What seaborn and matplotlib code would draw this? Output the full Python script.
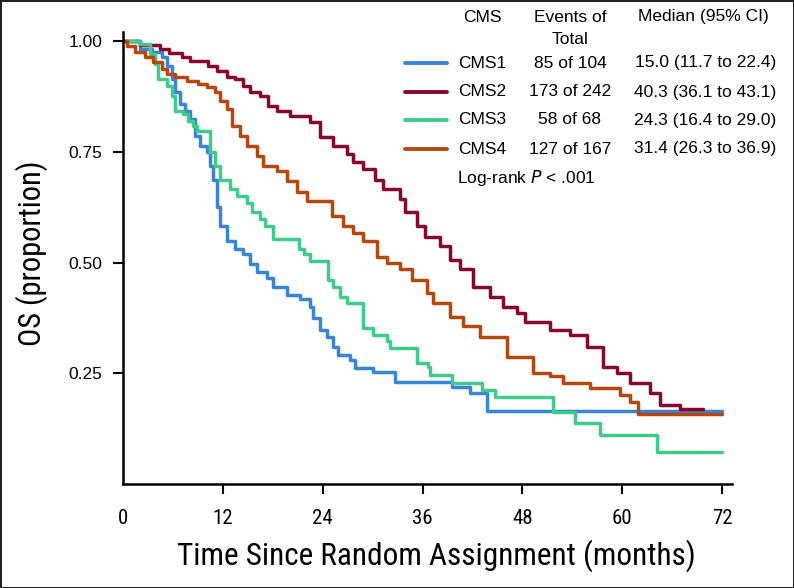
import numpy as np
import pandas as pd
import matplotlib
matplotlib.use("Agg")
import matplotlib.pyplot as plt
import seaborn as sns
from matplotlib.lines import Line2D

sns.set_style("ticks")

# Kaplan-Meier step values (months, proportion surviving)
cms1_t = [0, 2.0, 3.5, 4.7, 5.3, 5.9, 6.3, 6.9, 7.5, 8.1, 8.7, 9.3, 10.1, 10.5, 10.8, 11.3, 11.7,
          12.5, 13.5, 14.4, 15.3, 16.1, 17.3, 18.0, 19.7, 21.3, 22.5, 22.8, 23.7, 24.5, 25.2, 25.8,
          27.3, 27.9, 30.0, 32.7, 39.5, 41.7, 43.8, 72.0]
cms1_s = [1.0, 0.983, 0.976, 0.965, 0.944, 0.915, 0.885, 0.858, 0.843, 0.824, 0.786, 0.763, 0.75,
          0.718, 0.688, 0.627, 0.582, 0.55, 0.532, 0.519, 0.496, 0.478, 0.466, 0.444, 0.428, 0.417,
          0.399, 0.376, 0.349, 0.333, 0.31, 0.292, 0.281, 0.263, 0.254, 0.231, 0.22, 0.206, 0.165,
          0.165]

cms2_t = [0, 2.0, 4.4, 5.5, 7.1, 8.1, 10.2, 11.3, 12.5, 13.5, 14.4, 15.3, 16.5, 17.4, 18.5, 20.1,
          22.5, 23.7, 25.2, 26.9, 27.6, 28.8, 30.3, 31.3, 33.3, 33.9, 35.3, 36.3, 38.1, 39.3, 40.5,
          42.1, 44.1, 45.7, 47.4, 48.3, 51.3, 53.7, 55.8, 57.7, 59.4, 60.9, 63.3, 64.5, 66.9, 69.7]
cms2_s = [1.0, 0.993, 0.983, 0.975, 0.965, 0.955, 0.944, 0.933, 0.92, 0.915, 0.9, 0.885, 0.876,
          0.854, 0.843, 0.831, 0.817, 0.783, 0.763, 0.745, 0.727, 0.711, 0.688, 0.666, 0.643, 0.614,
          0.582, 0.559, 0.537, 0.507, 0.485, 0.446, 0.423, 0.399, 0.387, 0.367, 0.349, 0.337, 0.31,
          0.265, 0.251, 0.229, 0.206, 0.179, 0.17, 0.17]

cms3_t = [0, 2.0, 3.2, 3.8, 4.2, 5.3, 5.9, 6.3, 7.2, 7.8, 8.4, 8.9, 10.5, 11.1, 11.7, 12.9, 13.7,
          14.9, 15.5, 16.5, 17.0, 18.0, 21.2, 21.7, 22.5, 24.6, 25.2, 26.1, 26.9, 28.8, 30.0, 31.7,
          32.1, 35.3, 36.6, 36.9, 39.5, 43.1, 44.7, 51.7, 54.3, 57.3, 64.2, 72.0]
cms3_s = [1.0, 0.994, 0.971, 0.949, 0.915, 0.9, 0.876, 0.843, 0.836, 0.82, 0.808, 0.797, 0.75,
          0.718, 0.688, 0.666, 0.65, 0.636, 0.614, 0.598, 0.582, 0.553, 0.53, 0.519, 0.503, 0.462,
          0.444, 0.423, 0.41, 0.353, 0.337, 0.322, 0.308, 0.274, 0.265, 0.247, 0.229, 0.213, 0.197,
          0.163, 0.138, 0.111, 0.072, 0.072]

cms4_t = [0, 0.5, 1.4, 2.6, 3.6, 4.7, 5.3, 6.3, 7.7, 9.0, 10.1, 11.1, 11.7, 12.5, 13.1, 14.1, 14.9,
          16.1, 16.8, 18.5, 19.7, 20.9, 22.1, 25.1, 26.4, 27.6, 28.8, 30.5, 31.7, 33.3, 34.7, 36.5,
          37.3, 39.3, 40.9, 42.9, 46.2, 49.3, 51.3, 52.9, 56.1, 59.7, 60.9, 61.9, 72.0]
cms4_s = [1.0, 0.99, 0.976, 0.965, 0.953, 0.937, 0.926, 0.919, 0.91, 0.904, 0.897, 0.885, 0.865,
          0.847, 0.808, 0.786, 0.763, 0.741, 0.718, 0.707, 0.684, 0.659, 0.639, 0.605, 0.582, 0.568,
          0.55, 0.512, 0.5, 0.485, 0.462, 0.432, 0.41, 0.378, 0.356, 0.333, 0.288, 0.251, 0.243,
          0.229, 0.217, 0.201, 0.186, 0.158, 0.158]

groups = ["CMS1", "CMS2", "CMS3", "CMS4"]
events = ["85 of 104", "173 of 242", "58 of 68", "127 of 167"]
medians = ["15.0 (11.7 to 22.4)", "40.3 (36.1 to 43.1)", "24.3 (16.4 to 29.0)", "31.4 (26.3 to 36.9)"]
colors = {"CMS1": "#3a84d6", "CMS2": "#87082c", "CMS3": "#3ecb8c", "CMS4": "#b5470f"}

curves = {"CMS1": (cms1_t, cms1_s), "CMS2": (cms2_t, cms2_s),
          "CMS3": (cms3_t, cms3_s), "CMS4": (cms4_t, cms4_s)}
df = pd.concat([pd.DataFrame({"months": t, "os": s, "CMS": g}) for g, (t, s) in curves.items()])

narrow = ["Roboto Condensed", "DejaVu Sans"]
plt.rcParams["font.family"] = ["Liberation Sans", "DejaVu Sans"]
plt.rcParams["text.color"] = "black"

fig = plt.figure(figsize=(7.94, 5.88), dpi=100)
ax = fig.add_axes([0.155, 0.177, 0.767, 0.769])

for g in groups:
    sns.lineplot(data=df[df["CMS"] == g], x="months", y="os", color=colors[g],
                 drawstyle="steps-post", estimator=None, sort=False, lw=2.5, ax=ax)

ax.set_xlim(0, 73.2)
ax.set_ylim(0, 1.022)
ax.set_xticks([0, 12, 24, 36, 48, 60, 72])
ax.set_yticks([0.25, 0.5, 0.75, 1.0])
ax.set_yticklabels(["0.25", "0.50", "0.75", "1.00"])
sns.despine(ax=ax)
for s in ["left", "bottom"]:
    ax.spines[s].set_linewidth(1.8)
    ax.spines[s].set_color("black")
ax.tick_params(axis="y", length=7, width=1.5, pad=8, labelsize=12.5, colors="black")
ax.tick_params(axis="x", length=7, width=1.5, pad=11, labelsize=15, colors="black")
ax.xaxis.get_major_ticks()[0].tick1line.set_visible(False)
for lbl in ax.get_xticklabels():
    lbl.set_family(narrow)

ax.set_xlabel("Time Since Random Assignment (months)", family=narrow, fontsize=22.5,
              labelpad=8, color="black")
ax.set_ylabel("OS (proportion)", family=narrow, fontsize=22, labelpad=15, color="black")
ax.xaxis.label.set_x(0.515)
ax.yaxis.label.set_y(0.51)

# table-like legend (pixel positions converted to figure fraction)
W, H = 794, 588
def ft(x, y, s, **kw):
    fig.text(x / W, 1 - y / H, s, va="center", fontsize=12.5, **kw)

ft(482, 17, "CMS", ha="center")
ft(570, 17, "Events of", ha="center")
ft(570, 40, "Total", ha="center")
ft(703, 17, "Median (95% CI)", ha="center")
rows_y = [63, 92, 120, 149]
for g, ev, md, y in zip(groups, events, medians, rows_y):
    fig.add_artist(Line2D([405 / W, 447 / W], [1 - y / H, 1 - y / H], color=colors[g], lw=2.8))
    ft(458, y, g, ha="left")
    ft(570, y, ev, ha="center")
    ft(776, y, md, ha="right")
ft(457, 178, "Log-rank $\\it{P}$ < .001", ha="left")

fig.patch.set_edgecolor("#222222")
fig.patch.set_linewidth(2)

fig.savefig("out.png", dpi=100)
